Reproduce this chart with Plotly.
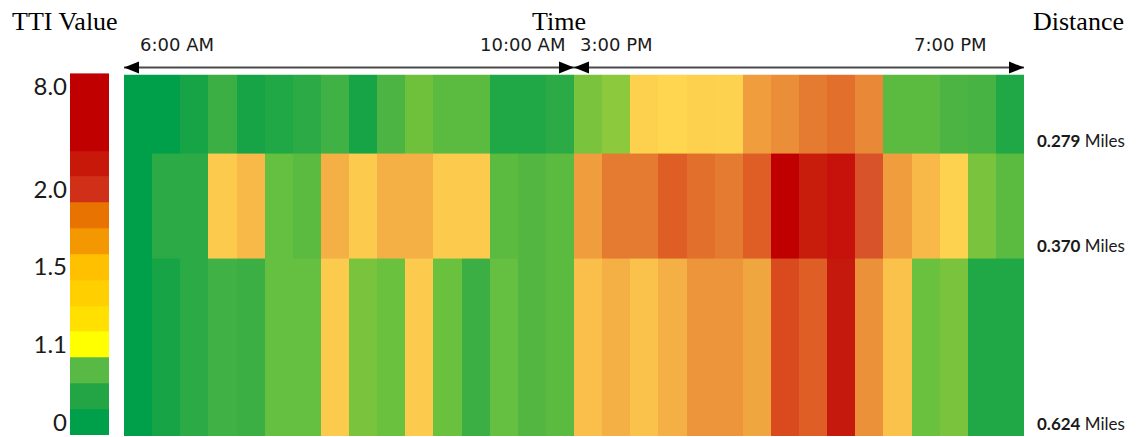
import plotly.graph_objects as go

# ---------------- data ----------------
time_slots = [
    "6:00 AM", "6:15 AM", "6:30 AM", "6:45 AM", "7:00 AM", "7:15 AM", "7:30 AM", "7:45 AM",
    "8:00 AM", "8:15 AM", "8:30 AM", "8:45 AM", "9:00 AM", "9:15 AM", "9:30 AM", "9:45 AM",
    "3:00 PM", "3:15 PM", "3:30 PM", "3:45 PM", "4:00 PM", "4:15 PM", "4:30 PM", "4:45 PM",
    "5:00 PM", "5:15 PM", "5:30 PM", "5:45 PM", "6:00 PM", "6:15 PM", "6:30 PM", "6:45 PM",
]
period_labels = ["6:00 AM", "10:00 AM", "3:00 PM", "7:00 PM"]

segment_lengths = [0.279, 0.370, 0.624]   # miles

tti_seg1 = [1.00, 1.00, 1.02, 1.05, 1.02, 1.03, 1.04, 1.06, 1.02, 1.07, 1.095, 1.08, 1.08, 1.03, 1.03, 1.04,
            1.10, 1.11, 1.17, 1.12, 1.17, 1.15, 1.50, 1.60, 1.70, 1.80, 1.63, 1.08, 1.08, 1.07, 1.065, 1.03]
tti_seg2 = [1.00, 1.04, 1.04, 1.20, 1.30, 1.085, 1.08, 1.40, 1.20, 1.40, 1.40, 1.20, 1.20, 1.08, 1.075, 1.08,
            1.50, 1.70, 1.70, 1.90, 1.80, 1.70, 1.90, 2.50, 2.20, 2.35, 1.95, 1.50, 1.30, 1.15, 1.10, 1.08]
tti_seg3 = [1.00, 1.02, 1.04, 1.06, 1.05, 1.085, 1.085, 1.20, 1.10, 1.09, 1.20, 1.09, 1.05, 1.085, 1.075, 1.08,
            1.28, 1.40, 1.25, 1.40, 1.55, 1.55, 1.45, 2.00, 1.90, 2.25, 1.57, 1.25, 1.09, 1.10, 1.03, 1.03]

legend_tick_labels = ["0", "1.1", "1.5", "2.0", "8.0"]

# ---------------- styles ----------------
W, H = 1142, 437

# colour anchors (TTI value, colour) for the heat map
anchors = [
    (1.00, "#00A04A"), (1.02, "#16A446"), (1.03, "#20A746"), (1.04, "#2BAA45"), (1.05, "#3BAF43"),
    (1.06, "#40B144"), (1.065, "#47B343"), (1.07, "#4CB443"), (1.075, "#52B641"), (1.08, "#5BBB40"),
    (1.085, "#65BF40"), (1.09, "#6AC13E"), (1.095, "#6FC03A"), (1.10, "#7AC43D"), (1.11, "#8CC93C"),
    (1.12, "#FED650"), (1.15, "#FDD24E"), (1.17, "#FDD04E"), (1.20, "#FCCB4E"), (1.25, "#FAC24A"),
    (1.28, "#FABE4A"), (1.30, "#F8B948"), (1.40, "#F4B045"), (1.45, "#EFA63F"), (1.50, "#F09E3D"),
    (1.55, "#ED953B"), (1.57, "#EB9139"), (1.60, "#EA8E38"), (1.63, "#E98836"), (1.70, "#E57B30"),
    (1.80, "#E2702C"), (1.90, "#DE5E26"), (1.95, "#D8532A"), (2.00, "#D94B1F"), (2.20, "#C81C0D"),
    (2.25, "#C5190D"), (2.35, "#C6120A"), (2.50, "#C00000"),
]
zmin, zmax = anchors[0][0], anchors[-1][0]
heat_scale = [[(v - zmin) / (zmax - zmin), c] for v, c in anchors]

band_colors = ["#00A04A", "#23A545", "#58BA45", "#FFFF00", "#FFE000", "#FFCF00",
               "#FFC000", "#F39800", "#E87300", "#D03018", "#C8180A", "#C00000"]
band_heights = [1] * 11 + [3]
legend_tick_pos = [0.5, 3.5, 6.5, 9.5, 13.5]

def px_x(p):
    return p / W

def px_y(p):
    return (H - p) / H

# ---------------- figure ----------------
fig = go.Figure()

# main heat map
y_edges = [0]
for L in segment_lengths:
    y_edges.append(y_edges[-1] + L)

fig.add_trace(go.Heatmap(
    z=[tti_seg1, tti_seg2, tti_seg3],
    x=list(range(len(time_slots))),
    y=y_edges,
    colorscale=heat_scale, zmin=zmin, zmax=zmax,
    showscale=False, xgap=0, ygap=0,
    customdata=[[t for t in time_slots]] * 3,
    hovertemplate="%{customdata}<br>TTI %{z}<extra></extra>",
    xaxis="x", yaxis="y",
))

# legend colour bar
b_edges = [0]
for h in band_heights:
    b_edges.append(b_edges[-1] + h)
fig.add_trace(go.Heatmap(
    z=[[i] for i in range(len(band_colors))],
    x=[0, 1], y=b_edges,
    colorscale=[[i / (len(band_colors) - 1), c] for i, c in enumerate(band_colors)],
    zmin=0, zmax=len(band_colors) - 1,
    showscale=False, hoverinfo="skip",
    xaxis="x2", yaxis="y2",
))

n = len(time_slots)
half = n // 2

fig.update_layout(
    width=W, height=H,
    margin=dict(l=0, r=0, t=0, b=0),
    paper_bgcolor="white", plot_bgcolor="white",
    showlegend=False,
    xaxis=dict(domain=[px_x(124), px_x(1024)], range=[-0.5, n - 0.5],
               visible=False, fixedrange=True),
    yaxis=dict(domain=[px_y(436), px_y(72)], range=[y_edges[-1], 0],
               visible=False, fixedrange=True),
    xaxis2=dict(domain=[px_x(70), px_x(109)], range=[0, 1], visible=False,
                anchor="y2", fixedrange=True),
    yaxis2=dict(domain=[px_y(435), px_y(70.7)], range=[0, b_edges[-1]], anchor="x2",
                showgrid=False, zeroline=False, showline=False, ticks="",
                tickvals=legend_tick_pos, ticktext=legend_tick_labels,
                tickfont=dict(family="Lato", size=24, color="#1a1a1a"),
                ticklabelstandoff=2, fixedrange=True),
)

# arrows
arrow_y = px_y(65)
line_col = "#4a4a4a"
for (x0, x1) in [(-0.5, half - 0.5), (half - 0.5, n - 0.5)]:
    fig.add_shape(type="line", xref="x", yref="paper", x0=x0, x1=x1, y0=arrow_y, y1=arrow_y,
                  line=dict(color=line_col, width=2))
    fig.add_shape(type="path", xref="x", yref="paper", xsizemode="pixel", ysizemode="pixel",
                  xanchor=x0, yanchor=arrow_y, path="M0,0 L15,6 L15,-6 Z",
                  fillcolor="black", line=dict(width=0))
    fig.add_shape(type="path", xref="x", yref="paper", xsizemode="pixel", ysizemode="pixel",
                  xanchor=x1, yanchor=arrow_y, path="M0,0 L-15,6 L-15,-6 Z",
                  fillcolor="black", line=dict(width=0))

# period labels
time_font = dict(family="DejaVu Sans", size=18, color="#1a1a1a")
lab_y = px_y(42)
fig.add_annotation(text=period_labels[0], x=0.0, xref="x", y=lab_y, yref="paper",
                   xanchor="left", yanchor="middle", showarrow=False, font=time_font)
fig.add_annotation(text=period_labels[1], x=half - 0.75, xref="x", y=lab_y, yref="paper",
                   xanchor="right", yanchor="middle", showarrow=False, font=time_font)
fig.add_annotation(text=period_labels[2], x=half - 0.35, xref="x", y=lab_y, yref="paper",
                   xanchor="left", yanchor="middle", showarrow=False, font=time_font)
fig.add_annotation(text=period_labels[3], x=n - 1.75, xref="x", y=lab_y, yref="paper",
                   xanchor="right", yanchor="middle", showarrow=False, font=time_font)

# titles
title_font = dict(family="Liberation Serif", size=26, color="black")
title_y = px_y(19)
fig.add_annotation(text="TTI Value", x=px_x(65), xref="paper", y=title_y, yref="paper",
                   xanchor="center", yanchor="middle", showarrow=False, font=title_font)
fig.add_annotation(text="Time", x=px_x(559), xref="paper", y=title_y, yref="paper",
                   xanchor="center", yanchor="middle", showarrow=False, font=title_font)
fig.add_annotation(text="Distance", x=px_x(1078), xref="paper", y=title_y, yref="paper",
                   xanchor="center", yanchor="middle", showarrow=False, font=title_font)

# distance labels (at bottom of each segment)
dist_font = dict(family="Lato", size=17, color="#1a1a1a")
for L, yb in zip(segment_lengths, y_edges[1:]):
    fig.add_annotation(text=f"<b>{L:.3f}</b> Miles", x=px_x(1035), xref="paper",
                       y=yb, yref="y", yshift=13, xanchor="left", yanchor="middle",
                       showarrow=False, font=dist_font)

fig.write_html(
    "out.html",
    config={"displayModeBar": False},
    post_script="document.documentElement.style.margin='0';document.body.style.margin='0';"
                "document.body.style.padding='0';document.body.style.overflow='hidden';",
)
